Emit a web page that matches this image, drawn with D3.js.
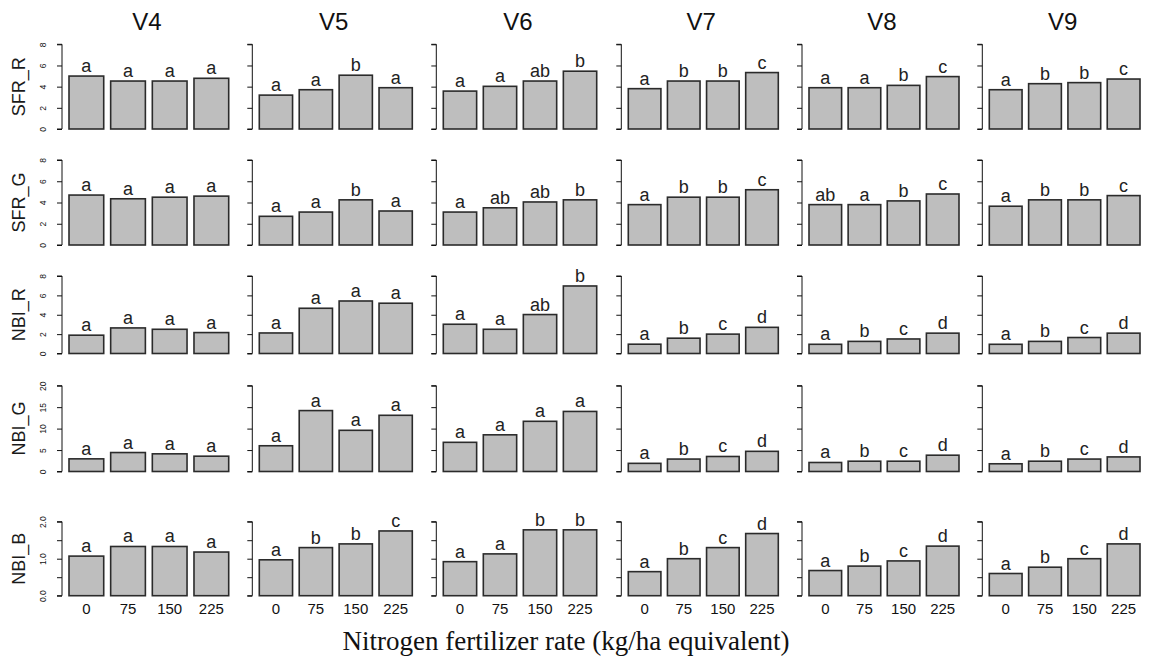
<!DOCTYPE html>
<html>
<head>
<meta charset="utf-8">
<script src="https://cdn.jsdelivr.net/npm/d3@7/dist/d3.min.js"></script>
<style>
  html, body { margin: 0; padding: 0; background: #fff; }
  svg { display: block; }
</style>
</head>
<body>
<svg id="chart" width="1153" height="665"></svg>
<script>
// ---------------- DATA ----------------
const rates = ["0", "75", "150", "225"];
const stages = ["V4", "V5", "V6", "V7", "V8", "V9"];
const indices = ["SFR_R", "SFR_G", "NBI_R", "NBI_G", "NBI_B"];

// values per stage (V4..V9), per rate (0,75,150,225)
const sfrR = [[5.0, 4.53, 4.53, 4.79], [3.2, 3.71, 5.08, 3.9], [3.58, 4.03, 4.53, 5.46],
              [3.81, 4.53, 4.53, 5.33], [3.9, 3.9, 4.12, 4.95], [3.71, 4.28, 4.38, 4.72]];
const sfrG = [[4.7, 4.35, 4.5, 4.6], [2.7, 3.1, 4.25, 3.2], [3.1, 3.5, 4.05, 4.25],
              [3.8, 4.5, 4.5, 5.2], [3.8, 3.8, 4.15, 4.8], [3.65, 4.25, 4.25, 4.65]];
const nbiR = [[1.89, 2.64, 2.5, 2.16], [2.12, 4.67, 5.42, 5.19], [3.02, 2.5, 4.02, 6.97],
              [0.96, 1.58, 2.0, 2.7], [0.95, 1.25, 1.5, 2.1], [0.95, 1.25, 1.65, 2.1]];
const nbiG = [[2.95, 4.42, 4.12, 3.57], [6.0, 14.2, 9.6, 13.1], [6.8, 8.55, 11.7, 14.0],
              [1.9, 2.9, 3.5, 4.7], [2.1, 2.4, 2.4, 3.8], [1.8, 2.4, 2.9, 3.4]];
const nbiB = [[1.07, 1.33, 1.33, 1.18], [0.97, 1.3, 1.4, 1.75], [0.92, 1.13, 1.78, 1.78],
              [0.65, 1.0, 1.3, 1.68], [0.68, 0.8, 0.94, 1.34], [0.6, 0.77, 1.0, 1.4]];

// significance letters
const lettersSfrR = [["a","a","a","a"], ["a","a","b","a"], ["a","a","ab","b"],
                     ["a","b","b","c"], ["a","a","b","c"], ["a","b","b","c"]];
const lettersSfrG = [["a","a","a","a"], ["a","a","b","a"], ["a","ab","ab","b"],
                     ["a","b","b","c"], ["ab","a","b","c"], ["a","b","b","c"]];
const lettersNbiR = [["a","a","a","a"], ["a","a","a","a"], ["a","a","ab","b"],
                     ["a","b","c","d"], ["a","b","c","d"], ["a","b","c","d"]];
const lettersNbiG = [["a","a","a","a"], ["a","a","a","a"], ["a","a","a","a"],
                     ["a","b","c","d"], ["a","b","c","d"], ["a","b","c","d"]];
const lettersNbiB = [["a","a","a","a"], ["a","b","b","c"], ["a","a","b","b"],
                     ["a","b","c","d"], ["a","b","c","d"], ["a","b","c","d"]];

// y-axis ticks per row and their labels
const ticksSfr = [0, 2, 4, 6, 8];
const tickLabelsSfr = ["0", "2", "4", "6", "8"];
const ticksNbiG = [0, 5, 10, 15, 20];
const tickLabelsNbiG = ["0", "5", "10", "15", "20"];
const ticksNbiB = [0, 0.5, 1.0, 1.5, 2.0];
const tickLabelsNbiB = ["0.0", "", "1.0", "", "2.0"];

const xTitle = "Nitrogen fertilizer rate (kg/ha equivalent)";

// ---------------- LAYOUT ----------------
const rows = [
  { name: indices[0], values: sfrR, letters: lettersSfrR, ticks: ticksSfr, tickLabels: tickLabelsSfr },
  { name: indices[1], values: sfrG, letters: lettersSfrG, ticks: ticksSfr, tickLabels: tickLabelsSfr },
  { name: indices[2], values: nbiR, letters: lettersNbiR, ticks: ticksSfr, tickLabels: tickLabelsSfr },
  { name: indices[3], values: nbiG, letters: lettersNbiG, ticks: ticksNbiG, tickLabels: tickLabelsNbiG },
  { name: indices[4], values: nbiB, letters: lettersNbiB, ticks: ticksNbiB, tickLabels: tickLabelsNbiB }
];
// pixel position of zero and of the top tick for each row
const rowZero = [129, 245, 353.5, 471.5, 595.7];
const rowTop  = [44.3, 160, 276, 385.7, 521.7];
// bar span (left of first bar, right of last bar) for each column
const colLeft  = [69, 259.3, 443.3, 628.3, 809, 989.3];
const colRight = [228.7, 412.3, 596.7, 778.3, 959, 1140];

const FONT = "'Liberation Sans', Arial, Helvetica, sans-serif";
const NARROW = "'Liberation Sans Narrow', 'Arial Narrow', 'Liberation Sans', sans-serif";
const svg = d3.select("#chart");

rows.forEach((row, ri) => {
  const tMax = row.ticks[row.ticks.length - 1];
  const y = d3.scaleLinear().domain([0, tMax]).range([rowZero[ri], rowTop[ri]]);

  // row label
  svg.append("text")
    .attr("transform", `translate(${19},${(rowZero[ri] + rowTop[ri]) / 2}) rotate(-90)`)
    .attr("text-anchor", "middle")
    .attr("dominant-baseline", "central")
    .style("font-family", FONT).style("font-size", "18px").attr("fill", "#1a1a1a")
    .text(row.name);

  stages.forEach((stage, ci) => {
    const x = d3.scaleBand().domain(rates).range([colLeft[ci], colRight[ci]])
      .paddingInner(1 / 6).paddingOuter(0);
    const axisX = colLeft[ci] - 7;
    const g = svg.append("g");

    // y axis
    const yAxis = d3.axisLeft(y).tickValues(row.ticks).tickSize(5).tickPadding(8)
      .tickFormat((d, i) => ci === 0 ? row.tickLabels[i] : "");
    const ag = g.append("g").attr("transform", `translate(${axisX},0)`).call(yAxis);
    ag.select(".domain").attr("d", `M-5,${y(tMax)}H0V${y(0)}H-5`).attr("stroke", "#111").attr("fill", "none");
    ag.selectAll(".tick line").attr("stroke", "#111");
    ag.selectAll(".tick text")
      .attr("transform", "translate(-19,0) rotate(-90)")
      .attr("x", 0).attr("dy", "0.35em")
      .attr("text-anchor", "middle")
      .style("font-family", FONT).style("font-size", "8.5px").attr("fill", "#111");

    // bars
    const vals = row.values[ci];
    g.selectAll("rect.bar").data(rates).enter().append("rect")
      .attr("class", "bar")
      .attr("x", d => x(d))
      .attr("width", x.bandwidth())
      .attr("y", (d, i) => y(vals[i]))
      .attr("height", (d, i) => y(0) - y(vals[i]))
      .attr("fill", "#bebebe")
      .attr("stroke", "#2b2b2b")
      .attr("stroke-width", 1.6);

    // letters
    g.selectAll("text.lab").data(rates).enter().append("text")
      .attr("class", "lab")
      .attr("x", d => x(d) + x.bandwidth() / 2)
      .attr("y", (d, i) => y(vals[i]) - 4)
      .attr("text-anchor", "middle")
      .style("font-family", FONT).style("font-size", "18px").attr("fill", "#222")
      .text((d, i) => row.letters[ci][i]);

    // column titles
    if (ri === 0) {
      svg.append("text")
        .attr("x", (colLeft[ci] + colRight[ci]) / 2 - 2)
        .attr("y", 30)
        .attr("text-anchor", "middle")
        .style("font-family", FONT).style("font-size", "24px").attr("fill", "#111")
        .text(stage);
    }
    // x tick labels on bottom row
    if (ri === rows.length - 1) {
      const xa = d3.axisBottom(x).tickSize(0).tickPadding(8);
      const xg = g.append("g").attr("transform", `translate(0,${y(0)})`).call(xa);
      xg.select(".domain").remove();
      xg.selectAll("text").style("font-family", NARROW).style("font-size", "15px").attr("fill", "#111");
    }
  });
});

// x-axis title
svg.append("text")
  .attr("x", 566).attr("y", 650)
  .attr("text-anchor", "middle")
  .style("font-family", "'Liberation Serif', 'Times New Roman', serif")
  .style("font-size", "27px").attr("fill", "#111")
  .text(xTitle);
</script>
</body>
</html>
